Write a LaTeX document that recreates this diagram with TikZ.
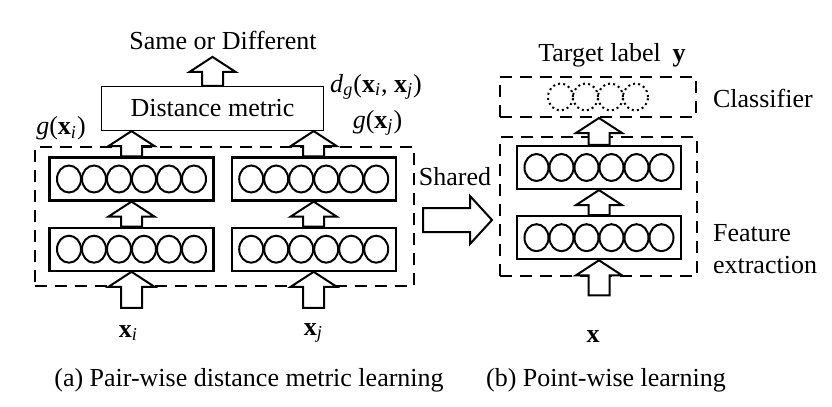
\documentclass[tikz,border=0pt]{standalone}
\usepackage{fontspec}
\setmainfont{Liberation Serif}
\usetikzlibrary{calc,positioning,shapes.geometric}

\tikzset{
  layer/.style={draw, line width=1.1pt, minimum width=82pt, minimum height=21.5pt, inner sep=0pt},
  unit/.style={ellipse, draw, line width=1pt, minimum width=12pt, minimum height=13.5pt, inner sep=0pt},
  outunit/.style={ellipse, draw, dash pattern=on 1pt off 1.6pt, line width=1pt, minimum width=12.5pt, minimum height=13.5pt, inner sep=0pt},
  dashbox/.style={draw, dash pattern=on 6pt off 4pt, line width=1pt, inner sep=0pt},
  blockarrow/.style={draw, fill=white, line width=1pt, line join=miter},
}
\newcommand{\blockup}[2]{%
  \draw[blockarrow] let \p1=(#1), \p2=(#2) in
    (\x2-5.25pt,\y1) -- (\x2-5.25pt,\y2-7.5pt) -- (\x2-11.5pt,\y2-7.5pt) -- (\x2,\y2)
    -- (\x2+11.5pt,\y2-7.5pt) -- (\x2+5.25pt,\y2-7.5pt) -- (\x2+5.25pt,\y1) -- cycle;}
\newcommand{\blockright}[2]{%
  \draw[blockarrow] let \p1=(#1), \p2=(#2) in
    (\x1,\y2+6pt) -- (\x2-11pt,\y2+6pt) -- (\x2-11pt,\y2+12pt) -- (\x2,\y2)
    -- (\x2-11pt,\y2-12pt) -- (\x2-11pt,\y2-6pt) -- (\x1,\y2-6pt) -- cycle;}
\newcommand{\bx}{\textbf{x}}
\newcommand{\sub}[1]{\textsubscript{\textit{#1}}}

\begin{document}
\begin{tikzpicture}[x=0.5pt, y=-0.5pt, font=\fontsize{13}{16}\selectfont]
    \useasboundingbox (0,0) rectangle (832,407);
    % (a) pair-wise
    \node[dashbox, minimum width=189.5pt, minimum height=69.5pt] (pair) at (224.5,216.5) {};
    \node[draw, line width=0.6pt, minimum width=111pt, minimum height=22pt] (dist) at (212.5,108.5) {Distance metric};
    \node (same) at (223,40) {Same or Different};
    \node[layer] (lu) at (131.5,179) {};
    \node[layer, below=12.5pt of lu] (ll) {};
    \node[layer, right=8pt of lu] (ru) {};
    \node[layer, below=12.5pt of ru] (rl) {};
    \node (gi) at (61,128) {\textit{g}(\bx\sub{i})};
    \node (dg) at (376,87) {\textit{d}\textsubscript{\textit{g}}(\bx\sub{i}, \bx\sub{j})};
    \node (gj) at (377.5,123) {\textit{g}(\bx\sub{j})};
    \node (xi) at (128.5,333) {\bx\sub{i}};
    \node (xj) at (313.5,333) {\bx\sub{j}};
    \node (capa) at (249,380) {(a) Pair-wise distance metric learning};
    % (b) point-wise
    \node[dashbox, minimum width=98.5pt, minimum height=69.5pt] (feat) at (598.5,206.5) {};
    \node[dashbox, minimum width=98pt, minimum height=20pt] (cls) at (598,97) {};
    \node[layer] (fu) at (599,167.5) {};
    \node[layer, below=12.5pt of fu] (fl) {};
    \node (tgt) at (612,55) {Target label\hspace{0.45em}\textbf{y}};
    \node[anchor=west] (clsl) at (706,98) {Classifier};
    \node[anchor=west, align=left] (featl) at (706,249) {Feature\\extraction};
    \node (shared) at (455,177) {Shared};
    \node (xin) at (593,337) {\bx};
    \node (capb) at (606,380) {(b) Point-wise learning};
    % units
    \foreach \b in {lu,ll,ru,rl,fu,fl}
        \foreach \k in {0,...,5}
            \node[unit] (\b\k) at ($(\b)+({(\k-2.5)*25},0)$) {};
    \foreach \k in {0,...,3}
        \node[outunit] (c\k) at ($(cls)+({(\k-1.5)*25},0)$) {};
    % block arrows
    \coordinate (ini) at ([yshift=-18pt]ll.south);
    \coordinate (inj) at ([yshift=-18pt]rl.south);
    \coordinate (inx) at ([yshift=-17.5pt]fl.south);
    \coordinate (out) at ([yshift=14.5pt]dist.north);
    \coordinate (shb) at (423,220);
    \coordinate (sht) at (492,220);
    \blockup{ini}{ll.south}
    \blockup{ll.north}{lu.south}
    \blockup{lu.north}{lu.north |- dist.south}
    \blockup{inj}{rl.south}
    \blockup{rl.north}{ru.south}
    \blockup{ru.north}{ru.north |- dist.south}
    \blockup{dist.north}{out}
    \blockup{inx}{fl.south}
    \blockup{fl.north}{fu.south}
    \blockup{fu.north}{fu.north |- cls.south}
    \blockright{shb}{sht}
\end{tikzpicture}
\end{document}
